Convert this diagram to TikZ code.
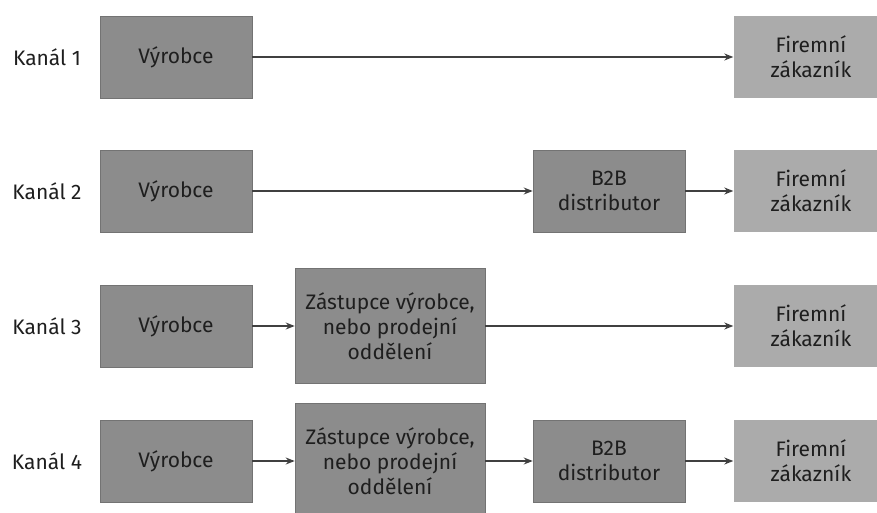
\documentclass[tikz,border=0pt]{standalone}
\usepackage{fontspec}
\setmainfont{Fira Sans}
\usetikzlibrary{arrows.meta}
\definecolor{boxdark}{HTML}{8C8C8C}
\definecolor{boxlight}{HTML}{ABABAB}
\definecolor{ink}{HTML}{1E1E1E}

\begin{document}
\begin{tikzpicture}[x=1pt,y=-1pt,
	every node/.style={font=\fontsize{21}{25}\selectfont, text=ink},
	dbox/.style={fill=boxdark, draw=black!55, line width=0.6pt, minimum width=152pt, minimum height=82pt, align=center, inner sep=0pt},
	zbox/.style={dbox, minimum width=190pt, minimum height=115pt},
	lbox/.style={fill=boxlight, minimum width=155pt, minimum height=82pt, align=center, inner sep=0pt},
	arr/.style={-{Stealth[length=9pt,width=7pt]}, line width=1.3pt, draw=ink!85}]
	\useasboundingbox (0,0) rectangle (877,513);
	% one row per channel
	\foreach \k/\y in {1/57, 2/191, 3/326, 4/461} {
		\node (kanal\k) at (47,\y) {Kanál \k};
		\node[dbox] (vyr\k) at (176,\y) {Výrobce};
		\node[lbox] (zak\k) at (811,\y) {Firemní\\zákazník};
	}
	\node[dbox] (dist2) at (609,191) {B2B\\distributor};
	\node[zbox] (zast3) at (390,326) {Zástupce výrobce,\\nebo prodejní\\oddělení};
	\node[zbox] (zast4) at (390,461) {Zástupce výrobce,\\nebo prodejní\\oddělení};
	\node[dbox] (dist4) at (609,461) {B2B\\distributor};
	% connectors
	\draw[arr] (vyr1) -- (zak1);
	\draw[arr] (vyr2) -- (dist2);
	\draw[arr] (dist2) -- (zak2);
	\draw[arr] (vyr3) -- (zast3);
	\draw[arr] (zast3) -- (zak3);
	\draw[arr] (vyr4) -- (zast4);
	\draw[arr] (zast4) -- (dist4);
	\draw[arr] (dist4) -- (zak4);
\end{tikzpicture}
\end{document}
